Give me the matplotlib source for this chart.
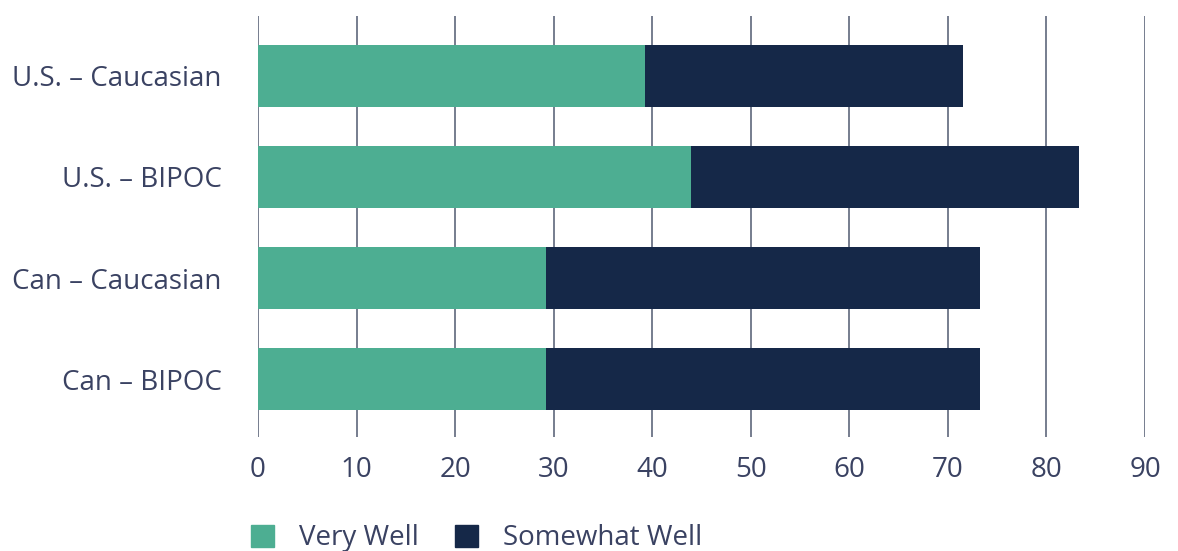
import matplotlib.pyplot as plt
from matplotlib.patches import Patch

groups = ['U.S. – Caucasian', 'U.S. – BIPOC', 'Can – Caucasian', 'Can – BIPOC']
very_well = [39.3, 43.9, 29.2, 29.2]
somewhat_well = [32.2, 39.4, 44.1, 44.1]
series_names = ['Very Well', 'Somewhat Well']
x_ticks = [0, 10, 20, 30, 40, 50, 60, 70, 80, 90]

green = '#4dae92'
navy = '#152848'
text_color = '#3a4262'
grid_color = '#6b7386'

plt.rcParams['font.family'] = ['Open Sans', 'DejaVu Sans']

fig = plt.figure(figsize=(11.78, 5.51), dpi=100)
ax = fig.add_axes([0.219, 0.207, 0.753, 0.764])

pos = list(range(len(groups)))
ax.barh(pos, very_well, height=0.61, color=green, zorder=3)
ax.barh(pos, somewhat_well, left=very_well, height=0.61, color=navy, zorder=3)

ax.set_xlim(0, 90)
ax.set_ylim(len(groups) - 1 + 0.57, -0.59)
ax.set_xticks(x_ticks)
ax.set_yticks(pos)
ax.set_yticklabels(groups)
ax.tick_params(axis='both', length=0, labelsize=20, colors=text_color)
ax.tick_params(axis='x', pad=14)
ax.tick_params(axis='y', pad=26)
ax.xaxis.grid(True, color=grid_color, linewidth=1.3, zorder=1)
for s in ax.spines.values():
    s.set_visible(False)

handles = [Patch(color=green), Patch(color=navy)]
fig.legend(handles, series_names, loc='lower left', bbox_to_anchor=(0.2097, -0.01),
           frameon=False, fontsize=20, labelcolor=text_color, ncol=2,
           borderpad=0.15, borderaxespad=0,
           handlelength=0.83, handleheight=0.83, handletextpad=0.9, columnspacing=1.3)

fig.savefig('out.png', dpi=100)
